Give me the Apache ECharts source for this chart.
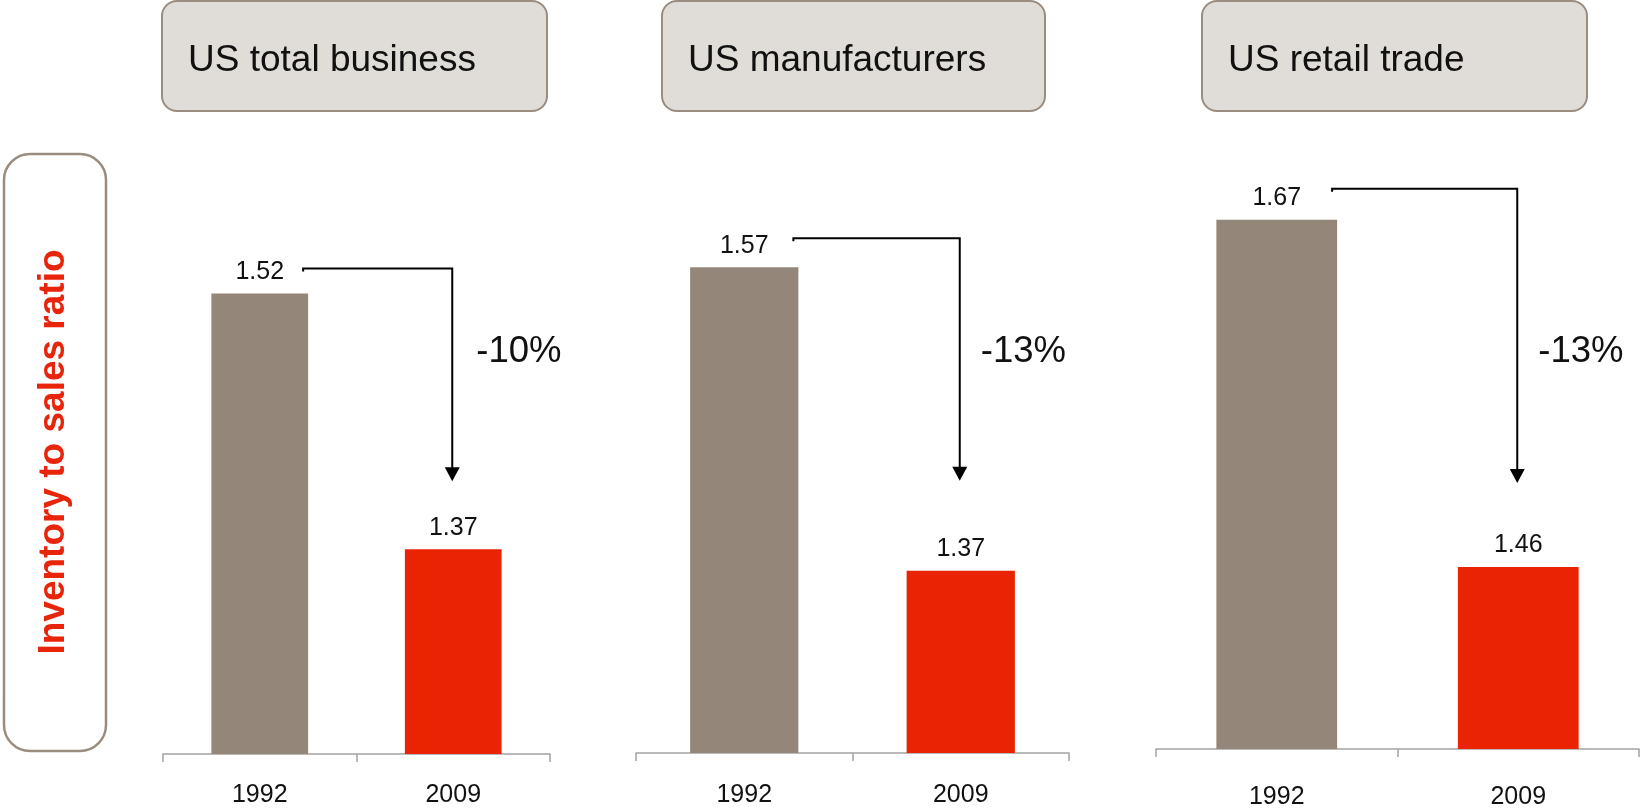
<!DOCTYPE html>
<html>
<head>
<meta charset="utf-8">
<script src="https://cdn.jsdelivr.net/npm/echarts@6/dist/echarts.min.js"></script>
<style>
  html, body { margin: 0; padding: 0; background: #fff; }
  #chart { width: 1640px; height: 810px; }
</style>
</head>
<body>
<div id="chart"></div>
<script>
// Inventory-to-sales ratios, 1992 vs 2009, for three US sectors
const years = ['1992', '2009'];
const panelTitles = ['US total business', 'US manufacturers', 'US retail trade'];
const ratios1992 = [1.52, 1.57, 1.67];
const ratios2009 = [1.37, 1.37, 1.46];
const axisTitle = 'Inventory to sales ratio';

const FONT = '"Liberation Sans", Arial, Helvetica, sans-serif';
const GREY = '#948779';
const RED = '#EA2302';
const FRAME = '#9A8D80';

// layout of each small chart (pixels / axis ranges)
const panels = [
  { left: 163, width: 387, top: 157, bottom: 56, min: 1.25, max: 1.60, labelMargin: 29,
    box: [162, 1, 385, 110], lineLift: 25, tipGap: 68, pctShift: 24 },
  { left: 636, width: 433, top: 70, bottom: 57, min: 1.25, max: 1.70, labelMargin: 30,
    box: [662, 1, 383, 110], lineLift: 29, tipGap: 90, pctShift: 21 },
  { left: 1156, width: 483, top: 170, bottom: 57, min: 1.35, max: 1.70, labelMargin: 36,
    box: [1202, 1, 385, 110], lineLift: 31, tipGap: 84, pctShift: 21 }
];

const chart = echarts.init(document.getElementById('chart'));

const grids = [], xAxes = [], yAxes = [], series = [];
panels.forEach((p, i) => {
  grids.push({ left: p.left, width: p.width, top: p.top, bottom: p.bottom });
  xAxes.push({
    type: 'category', gridIndex: i, data: years, boundaryGap: true,
    axisLine: { lineStyle: { color: '#A3A3A3', width: 1.5 } },
    axisTick: { show: true, length: 8, lineStyle: { color: '#A3A3A3', width: 1.5 } },
    axisLabel: { fontFamily: FONT, fontSize: 25, color: '#111', margin: p.labelMargin }
  });
  yAxes.push({
    type: 'value', gridIndex: i, min: p.min, max: p.max, show: false,
    splitLine: { show: false }
  });
  series.push({
    type: 'bar', xAxisIndex: i, yAxisIndex: i, barWidth: '50%',
    data: [
      { value: ratios1992[i], itemStyle: { color: GREY } },
      { value: ratios2009[i], itemStyle: { color: RED } }
    ],
    label: {
      show: true, position: 'top', distance: 9,
      fontFamily: FONT, fontSize: 25, color: '#111',
      formatter: d => d.value.toFixed(2)
    },
    silent: true
  });
});

chart.setOption({
  animation: false,
  backgroundColor: '#fff',
  grid: grids, xAxis: xAxes, yAxis: yAxes, series: series
});

// header boxes, side title and change arrows
const graphics = [];

graphics.push({
  type: 'rect', shape: { x: 4, y: 154, width: 102, height: 597, r: 26 },
  style: { fill: '#fff', stroke: FRAME, lineWidth: 2.5 }, z: 1
});
graphics.push({
  type: 'text', x: 54, y: 452, rotation: Math.PI / 2,
  style: { text: axisTitle, x: 0, y: 0, align: 'center', verticalAlign: 'middle',
    font: 'bold 37px ' + FONT, fill: '#E8250A' }, z: 2
});

panels.forEach((p, i) => {
  const [bx, by, bw, bh] = p.box;
  graphics.push({
    type: 'rect', shape: { x: bx, y: by, width: bw, height: bh, r: 15 },
    style: { fill: '#E0DDD8', stroke: FRAME, lineWidth: 2 }, z: 1
  });
  graphics.push({
    type: 'text', x: bx + 26, y: 61,
    style: { text: panelTitles[i], x: 0, y: 0, align: 'left', verticalAlign: 'middle',
      font: '37px ' + FONT, fill: '#111' }, z: 2
  });

  const a = chart.convertToPixel({ gridIndex: i }, [0, ratios1992[i]]);
  const b = chart.convertToPixel({ gridIndex: i }, [1, ratios2009[i]]);
  const barW = (b[0] - a[0]) * 0.5;
  const yH = a[1] - p.lineLift;
  const xStart = a[0] + barW / 2 - 5;
  const xArrow = b[0] - 1;
  const tip = b[1] - p.tipGap;
  const head = 14, half = 7.5;

  graphics.push({
    type: 'polyline',
    shape: { points: [[xStart, yH + 3], [xStart, yH], [xArrow, yH], [xArrow, tip - head + 1]] },
    style: { stroke: '#000', lineWidth: 2, fill: null }, z: 3
  });
  graphics.push({
    type: 'polygon',
    shape: { points: [[xArrow - half, tip - head], [xArrow + half, tip - head], [xArrow, tip]] },
    style: { fill: '#000' }, z: 3
  });
  const change = Math.round((ratios2009[i] / ratios1992[i] - 1) * 100);
  graphics.push({
    type: 'text', x: xArrow + p.pctShift, y: 352,
    style: { text: change + '%', x: 0, y: 0, align: 'left', verticalAlign: 'middle',
      font: '36.5px ' + FONT, fill: '#111' }, z: 3
  });
});

chart.setOption({ graphic: graphics });
</script>
</body>
</html>
